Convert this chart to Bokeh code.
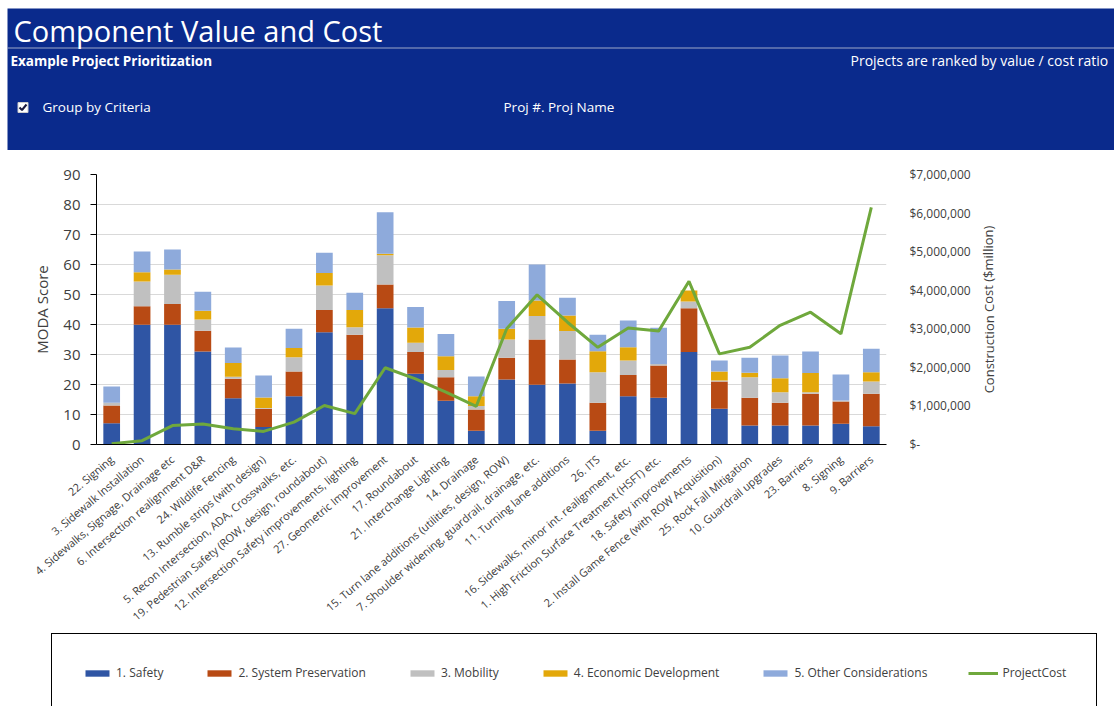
import numpy as np
from bokeh.plotting import figure
from bokeh.models import (ColumnDataSource, Range1d, FactorRange, LinearAxis,
                          FixedTicker, CustomJSTickFormatter, Legend, LegendItem)
from bokeh.layouts import row
from bokeh.embed import file_html
from bokeh.resources import INLINE
from bokeh.core.properties import value

# ---------------- data ----------------
projects = [
    "22. Signing",
    "3. Sidewalk Installation",
    "4. Sidewalks, Signage, Drainage etc",
    "6. Intersection realignment D&R",
    "24. Wildlife Fencing",
    "13. Rumble strips (with design)",
    "5. Recon Intersection, ADA, Crosswalks, etc.",
    "19. Pedestrian Safety (ROW, design, roundabout)",
    "12. Intersection Safety improvements, lighting",
    "27. Geometric Improvement",
    "17. Roundabout",
    "21. Interchange Lighting",
    "14. Drainage",
    "15. Turn lane additions (utilities, design, ROW)",
    "7. Shoulder widening, guardrail, drainage, etc.",
    "11. Turning lane additions",
    "26. ITS",
    "16. Sidewalks, minor int. realignment, etc.",
    "1. High Friction Surface Treatment (HSFT) etc.",
    "18. Safety improvements",
    "2. Install Game Fence (with ROW Acquisition)",
    "25. Rock Fall Mitigation",
    "10. Guardrail upgrades",
    "23. Barriers",
    "8. Signing",
    "9. Barriers",
]

safety = [7.1, 39.9, 39.9, 31.0, 15.4, 5.8, 16.1, 37.4, 28.2, 45.4, 23.6, 14.6, 4.6,
          21.7, 19.9, 20.3, 4.6, 16.1, 15.6, 30.8, 11.9, 6.3, 6.3, 6.3, 6.9, 6.1]
system_preservation = [5.9, 6.2, 6.9, 6.9, 6.5, 6.1, 8.2, 7.4, 8.4, 7.9, 7.2, 7.8, 7.1,
                       7.2, 15.1, 8.0, 9.3, 7.1, 10.7, 14.6, 9.1, 9.3, 7.6, 10.6, 7.4, 10.8]
mobility = [0.9, 8.2, 9.8, 3.8, 0.7, 0.3, 4.8, 8.2, 2.5, 9.8, 3.1, 2.4, 1.1,
            6.1, 7.8, 9.5, 10.2, 4.8, 0.5, 2.3, 0.3, 6.8, 3.5, 0.5, 0.4, 4.1]
economic_development = [0.0, 3.1, 1.7, 2.9, 4.6, 3.5, 3.1, 4.2, 5.7, 0.5, 5.1, 4.6, 3.3,
                        3.6, 5.2, 5.2, 7.0, 4.4, 0.0, 3.6, 3.0, 1.5, 4.7, 6.4, 0.0, 3.1]
other_considerations = [5.4, 6.9, 6.7, 6.3, 5.1, 7.3, 6.4, 6.7, 5.8, 13.8, 6.8, 7.4, 6.6,
                        9.2, 12.0, 5.9, 5.5, 8.9, 12.1, 0.0, 3.7, 5.0, 7.6, 7.2, 8.6, 7.8]
project_cost = [20000, 100000, 490000, 530000, 410000, 340000, 580000, 1010000, 800000,
                1990000, 1700000, 1360000, 990000, 3000000, 3880000, 3170000, 2520000,
                3020000, 2940000, 4230000, 2350000, 2520000, 3090000, 3430000, 2870000,
                6150000]

series_keys = ["safety", "system_preservation", "mobility", "economic_development",
               "other_considerations"]
series_names = ["1. Safety", "2. System Preservation", "3. Mobility",
                "4. Economic Development", "5. Other Considerations"]
cost_name = "ProjectCost"
series_colors = ["#2f55a4", "#b84a14", "#c0c0c0", "#e3a80a", "#8eaadb"]
cost_color = "#6fa83c"

left_ticks = [0, 10, 20, 30, 40, 50, 60, 70, 80, 90]
right_ticks = [0, 1000000, 2000000, 3000000, 4000000, 5000000, 6000000, 7000000]

title_text = "Component Value and Cost"
subtitle_text = "Example Project Prioritization"
note_text = "Projects are ranked by value / cost ratio"
checkbox_text = "Group by Criteria"
selector_text = "Proj #. Proj Name"
left_title = "MODA Score"
right_title = "Construction Cost ($million)"

FONT = "Open Sans"
TXT = "#404040"
HEADER_BLUE = "#0a2a8c"
W = 1114


def bare_figure(width, height, y_range, **kw):
    f = figure(width=width, height=height, x_range=Range1d(0, width), y_range=y_range,
               toolbar_location=None, output_backend="svg",
               x_axis_location=None, y_axis_location=None,
               background_fill_color="white", border_fill_color="white",
               outline_line_color=None, **kw)
    f.xgrid.visible = False
    f.ygrid.visible = False
    return f


# ---------------- header ----------------
HH = 150
hdr = bare_figure(W, HH, Range1d(HH, 0), min_border=0)
hdr.quad(left=[7], right=[W], top=[8], bottom=[HH], fill_color=HEADER_BLUE, line_color=None)
hdr.segment(x0=[7], y0=[47.5], x1=[W], y1=[47.5], line_color="#9ea8c8", line_width=1.2)
hdr.text(x=[13], y=[29.5], text=[title_text], text_color="white", text_font=value(FONT),
         text_font_size="29px", text_baseline="middle")
hdr.text(x=[10], y=[60.5], text=[subtitle_text], text_color="white", text_font=value(FONT),
         text_font_size="13.5px", text_font_style="bold", text_baseline="middle")
hdr.text(x=[850], y=[59.5], text=[note_text], text_color="white", text_font=value(FONT),
         text_font_size="14px", text_baseline="middle")
hdr.rect(x=[22.5], y=[107], width=10, height=10, fill_color="white", line_color="#cccccc")
hdr.line(x=[19, 21.5, 26], y=[107, 109.5, 104], line_color="#1a1a40", line_width=2)
hdr.text(x=[42], y=[106.5], text=[checkbox_text], text_color="white", text_font=value(FONT),
         text_font_size="13.5px", text_baseline="middle")
hdr.text(x=[503], y=[106.5], text=[selector_text], text_color="white", text_font=value(FONT),
         text_font_size="13.5px", text_baseline="middle")

# ---------------- main chart ----------------
source = ColumnDataSource(dict(
    project=projects,
    safety=safety,
    system_preservation=system_preservation,
    mobility=mobility,
    economic_development=economic_development,
    other_considerations=other_considerations,
    cost=project_cost,
))

H = 482
MW = 975
p = figure(width=MW, height=H, x_range=FactorRange(*projects), y_range=Range1d(0, 90),
           toolbar_location=None, output_backend="svg",
           min_border_left=96, min_border_right=MW - 886, min_border_top=24,
           min_border_bottom=H - 294, background_fill_color="white",
           border_fill_color="white", outline_line_color=None)
p.extra_y_ranges = {"cost": Range1d(0, 7000000)}

p.vbar_stack(series_keys, x="project", width=0.55, color=series_colors,
             source=source, line_width=0)
p.line(x="project", y="cost", source=source, y_range_name="cost",
       line_color=cost_color, line_width=3)

p.xgrid.visible = False
p.ygrid.grid_line_color = "#d9d9d9"
p.ygrid.ticker = FixedTicker(ticks=left_ticks)

# left axis
p.yaxis.ticker = FixedTicker(ticks=left_ticks)
p.yaxis.axis_label = left_title
p.yaxis.axis_label_text_font = FONT
p.yaxis.axis_label_text_font_size = "15px"
p.yaxis.axis_label_text_font_style = "normal"
p.yaxis.axis_label_text_color = TXT
p.yaxis.axis_label_standoff = 8
p.yaxis.major_label_text_font = FONT
p.yaxis.major_label_text_font_size = "15px"
p.yaxis.major_label_text_color = TXT
p.yaxis.major_label_standoff = 10
p.yaxis.axis_line_color = "black"
p.yaxis.major_tick_line_color = "black"
p.yaxis.major_tick_out = 6
p.yaxis.major_tick_in = 0
p.yaxis.minor_tick_line_color = None

# bottom axis
p.xaxis.major_label_orientation = 0.70
p.xaxis.major_label_text_font = FONT
p.xaxis.major_label_text_font_size = "11px"
p.xaxis.major_label_text_color = TXT
p.xaxis.major_label_standoff = 7
p.xaxis.axis_line_color = "black"
p.xaxis.major_tick_line_color = None

# right axis (its title sits in the strip to the right, reading upwards)
ra = LinearAxis(y_range_name="cost", ticker=FixedTicker(ticks=right_ticks),
                formatter=CustomJSTickFormatter(code="""
                    if (tick == 0) { return "$-"; }
                    return "$" + Math.round(tick).toString().replace(/\\B(?=(\\d{3})+(?!\\d))/g, ",");
                """))
ra.major_label_text_font = FONT
ra.major_label_text_font_size = "12px"
ra.major_label_text_color = TXT
ra.major_label_standoff = 17
ra.axis_line_color = None
ra.major_tick_line_color = None
ra.minor_tick_line_color = None
p.add_layout(ra, "right")

SW = W - MW
side = bare_figure(SW, H, Range1d(0, 90), min_border_left=0, min_border_right=0,
                   min_border_top=24, min_border_bottom=H - 294)
side.text(x=[13], y=[45], text=[right_title], angle=1.5708, text_color=TXT,
          text_font=value(FONT), text_font_size="13px", text_align="center",
          text_baseline="middle")

# ---------------- legend strip ----------------
LH = 706 - HH - H
lf = bare_figure(W, LH, Range1d(0, LH), min_border_left=50, min_border_top=0,
                 min_border_right=0, min_border_bottom=0)
blank = ColumnDataSource(dict(x=np.array([np.nan]), top=np.array([np.nan]),
                              y=np.array([np.nan])))
legend_renderers = [lf.vbar(x="x", top="top", width=1, source=blank, color=c, line_width=0)
                    for c in series_colors]
legend_renderers.append(lf.line(x="x", y="y", source=blank, line_color=cost_color,
                                line_width=3))
items = [LegendItem(label=n, renderers=[r])
         for n, r in zip(series_names + [cost_name], legend_renderers)]
lg = Legend(items=items, orientation="horizontal", location="top_left")
lg.border_line_color = "black"
lg.border_line_width = 1
lg.border_line_alpha = 1
lg.background_fill_color = "white"
lg.background_fill_alpha = 1
lg.padding = 30
lg.spacing = 41
lg.margin = 1
lg.label_standoff = 4
lg.glyph_width = 30
lg.glyph_height = 8
lg.label_height = 10
lg.label_text_font = FONT
lg.label_text_font_size = "12px"
lg.label_text_color = TXT
lg.label_text_baseline = "middle"
lf.add_layout(lg, "center")

open("out.html", "w").write(file_html([hdr, row(p, side), lf], INLINE))
